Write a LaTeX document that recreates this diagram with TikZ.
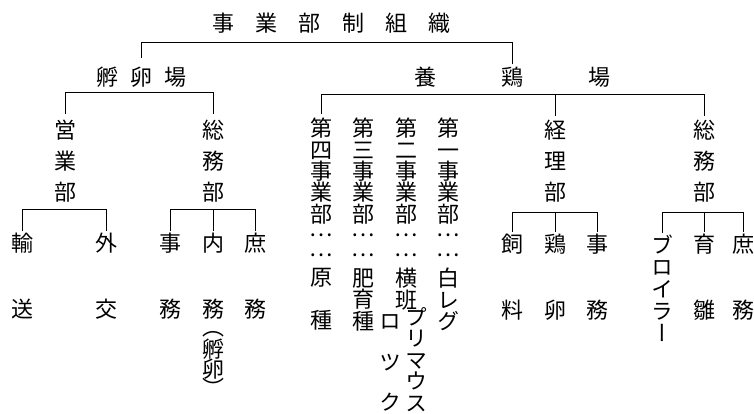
\documentclass[tikz,border=0pt]{standalone}
\usepackage{fontspec}
\newfontfamily\jfont[RawFeature=+vert]{Noto Sans CJK JP}
\newcommand\vtfont[1]{\jfont\fontsize{22pt}{#1}\selectfont\lineskiplimit-50pt\relax\lineskip0pt\relax}
\tikzset{
  ch/.style={inner sep=0pt, font={\jfont\fontsize{22pt}{22pt}\selectfont}},
  vt/.style={inner sep=0pt, align=center, anchor=north, font={\vtfont{#1}}},
  dots/.style={inner sep=0pt, align=center, anchor=center, font={\vtfont{19.5pt}}},
  ln/.style={line width=0.8pt},
}
\begin{document}
\begin{tikzpicture}[x=1pt,y=-1pt]
\useasboundingbox (0,0) rectangle (754,413);
% level 1 and 2
\node[ch] (title) at (331.5,23) {事\hskip21.4pt 業\hskip21.4pt 部\hskip21.4pt 制\hskip21.4pt 組\hskip21.4pt 織};
\node[ch] (hatch) at (141.5,77) {孵\hskip12.5pt 卵\hskip12.5pt 場};
\node[ch] (farm) at (512.5,77) {養\hskip65.5pt 鶏\hskip65.5pt 場};
% level 3
\node[vt=31pt] (ei) at (65,120) {営\\業\\部};
\node[vt=31pt] (sl) at (213,120) {総\\務\\部};
\node[vt=31pt] (ke) at (555,120) {経\\理\\部};
\node[vt=31pt] (sr) at (704,120) {総\\務\\部};
% middle columns
\node[vt=21.4pt] (dd) at (321,118) {第\\四\\事\\業\\部};
\node[dots] (ddl) at (321,245) {…\\…};
\node[vt=43pt] (ddb) at (321,268) {原\\種};
\node[vt=21.4pt] (dc) at (363,118) {第\\三\\事\\業\\部};
\node[dots] (dcl) at (363,245) {…\\…};
\node[vt=21.5pt] (dcb) at (363,268) {肥\\育\\種};
\node[vt=21.4pt] (db) at (406,118) {第\\二\\事\\業\\部};
\node[dots] (dbl) at (406,245) {…\\…};
\node[vt=21.5pt] (dbb) at (406,268) {横\\班};
\node[vt=21.5pt] (pm) at (416,307) {プ\\リ\\マ\\ウ\\ス};
\node[vt=40.5pt] (rk) at (390,314.5) {ロ\\ツ\\ク};
\node[vt=21.4pt] (da) at (448,118) {第\\一\\事\\業\\部};
\node[dots] (dal) at (448,245) {…\\…};
\node[vt=21.5pt] (dab) at (448,268) {白\\レ\\グ};
% level 4 left
\node[vt=66pt] (yu) at (22,233) {輸\\送};
\node[vt=66pt] (ga) at (106,233) {外\\交};
\node[vt=66pt] (ji) at (170,233) {事\\務};
\node[vt=66pt] (na) at (213,233) {内\\務};
\node[vt=66pt] (sh) at (255,233) {庶\\務};
\node[ch] (pa) at (213,334) {（};
\node[vt=20pt] (fr) at (213,339) {孵\\卵};
\node[ch] (pb) at (213,387) {）};
% level 4 right
\node[vt=66pt] (si) at (512,234) {飼\\料};
\node[vt=66pt] (kr) at (555,234) {鶏\\卵};
\node[vt=66pt] (jm) at (597,234) {事\\務};
\node[vt=22pt] (br) at (662,235) {ブ\\ロ\\イ\\ラ\\ー};
\node[vt=66pt] (ik) at (704,234) {育\\雛};
\node[vt=66pt] (sm) at (743,234) {庶\\務};
% connectors
\coordinate (tb) at (0,42);
\draw[ln] ([yshift=9pt]hatch.north) -- (hatch.north |- tb) -- (farm.north |- tb) -- ([yshift=3pt]farm.north);
\coordinate (lb) at (0,92);
\draw[ln] ([yshift=6pt]ei.north) -- (ei.north |- lb) -- (sl.north |- lb) -- ([yshift=6pt]sl.north);
\coordinate (rb) at (0,94.5);
\draw[ln] ([yshift=4pt]dd.north) -- (dd.north |- rb) -- (sr.north |- rb) -- ([yshift=4pt]sr.north);
\draw[ln] (ke.north |- rb) -- ([yshift=4pt]ke.north);
\coordinate (bl) at (0,209);
\draw[ln] ([yshift=2pt]yu.north) -- (yu.north |- bl) -- (ga.north |- bl) -- ([yshift=2pt]ga.north);
\draw[ln] ([yshift=2pt]ji.north) -- (ji.north |- bl) -- (sh.north |- bl) -- ([yshift=2pt]sh.north);
\draw[ln] (na.north |- bl) -- ([yshift=2pt]na.north);
\coordinate (br3) at (0,212);
\draw[ln] ([yshift=2pt]si.north) -- (si.north |- br3) -- (jm.north |- br3) -- ([yshift=2pt]jm.north);
\draw[ln] (kr.north |- br3) -- ([yshift=2pt]kr.north);
\draw[ln] ([yshift=2pt]br.north) -- (br.north |- br3) -- (sm.north |- br3) -- ([yshift=2pt]sm.north);
\draw[ln] (ik.north |- br3) -- ([yshift=2pt]ik.north);
\end{tikzpicture}
\end{document}
